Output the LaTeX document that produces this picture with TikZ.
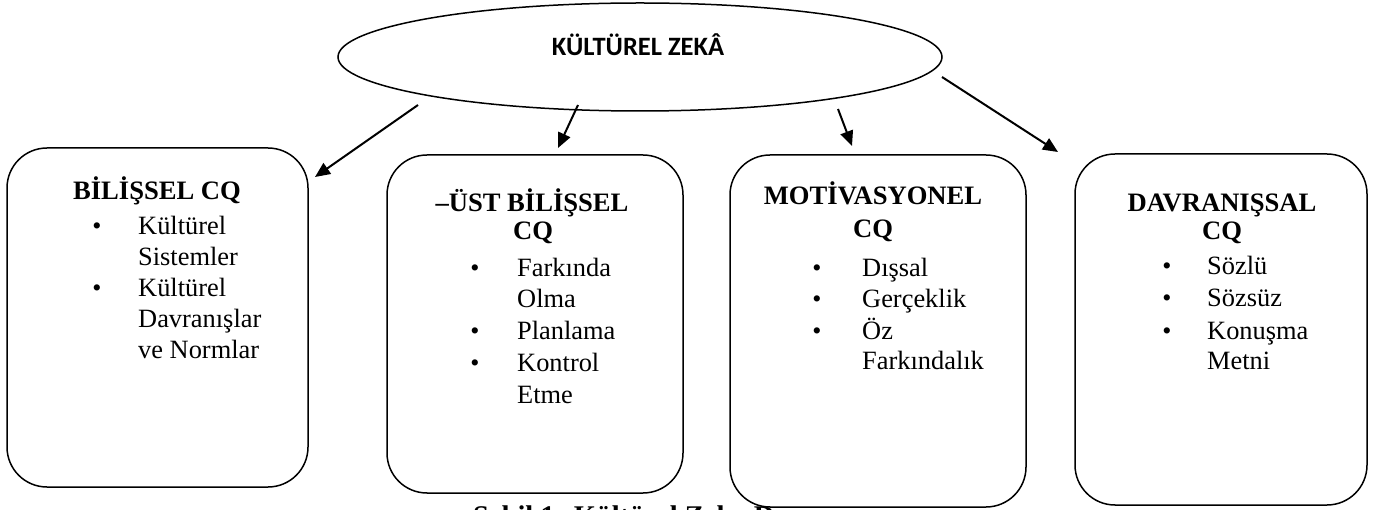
\documentclass[tikz,border=0pt]{standalone}
\usepackage{fontspec}
\setmainfont{Liberation Serif}
\newfontfamily\calib{Carlito}
\usetikzlibrary{shapes.geometric,arrows.meta}
\tikzset{
  box/.style={draw=black, fill=white, line width=1.5pt, rounded corners=40pt, inner sep=0pt},
  ttl/.style={anchor=base, inner sep=0pt, font=\fontsize{26.6}{30}\selectfont\bfseries},
  itm/.style={anchor=base west, inner sep=0pt, font=\fontsize{26.4}{30}\selectfont},
  bul/.style={anchor=base, inner sep=0pt, font=\fontsize{26}{30}\selectfont},
  arr/.style={line width=2pt, -{Triangle[length=15pt,width=13pt]}},
}
\begin{document}
\begin{tikzpicture}[x=1pt,y=-1pt]
\useasboundingbox (0,0) rectangle (1376,510);
% top ellipse
\node[draw, ellipse, line width=1.5pt, minimum width=604pt, minimum height=108pt, inner sep=0pt] (zeka) at (640,57) {};
\node[anchor=base, inner sep=0pt, font=\calib\fontsize{26.5}{30}\selectfont\bfseries] (zekat) at (638,56) {KÜLTÜREL ZEKÂ};
% caption (partly hidden behind boxes and the page edge)
\node[anchor=base west, inner sep=0pt, font=\fontsize{28.5}{32}\selectfont\bfseries] (cap) at (473,525) {Şekil 1: Kültürel Zeka D};
% boxes
\node[box, minimum width=301pt, minimum height=339pt] (b1) at (157.5,317.5) {};
\node[box, minimum width=296pt, minimum height=338pt] (b2) at (535,324) {};
\node[box, minimum width=296pt, minimum height=352pt] (b3) at (878,331) {};
\node[box, minimum width=292pt, minimum height=351pt] (b4) at (1221,329.5) {};
% box 1
\node[ttl] (t1) at (157,200) {BİLİŞSEL CQ};
\node[bul] (p11) at (97,235) {•};
\node[itm] (i11) at (138,235) {Kültürel};
\node[itm] (i12) at (138,266) {Sistemler};
\node[bul] (p12) at (97,297) {•};
\node[itm] (i13) at (138,297) {Kültürel};
\node[itm] (i14) at (138,328) {Davranışlar};
\node[itm] (i15) at (138,359) {ve Normlar};
% box 2
\node[ttl] (t2a) at (532,212) {–ÜST BİLİŞSEL};
\node[ttl] (t2b) at (533,240) {CQ};
\node[bul] (p21) at (475,277) {•};
\node[itm] (i21) at (517,277) {Farkında};
\node[itm] (i22) at (517,308) {Olma};
\node[bul] (p22) at (475,340) {•};
\node[itm] (i23) at (517,340) {Planlama};
\node[bul] (p23) at (475,372) {•};
\node[itm] (i24) at (517,372) {Kontrol};
\node[itm] (i25) at (517,403) {Etme};
% box 3
\node[ttl] (t3a) at (873,205) {MOTİVASYONEL};
\node[ttl] (t3b) at (873,238) {CQ};
\node[bul] (p31) at (817,277) {•};
\node[itm] (i31) at (862,277) {Dışsal};
\node[bul] (p32) at (817,308) {•};
\node[itm] (i32) at (862,308) {Gerçeklik};
\node[bul] (p33) at (817,340) {•};
\node[itm] (i33) at (862,340) {Öz};
\node[itm] (i34) at (862,370) {Farkındalık};
% box 4
\node[ttl] (t4a) at (1222,212) {DAVRANIŞSAL};
\node[ttl] (t4b) at (1222,240) {CQ};
\node[bul] (p41) at (1167,275) {•};
\node[itm] (i41) at (1207,275) {Sözlü};
\node[bul] (p42) at (1167,307) {•};
\node[itm] (i42) at (1207,307) {Sözsüz};
\node[bul] (p43) at (1167,340) {•};
\node[itm] (i43) at (1207,340) {Konuşma};
\node[itm] (i44) at (1207,370) {Metni};
% arrows
\coordinate (s1) at (418,105); \coordinate (e1) at (315,177);
\coordinate (s2) at (578,105); \coordinate (e2) at (558,148);
\coordinate (s3) at (838,109); \coordinate (e3) at (852,146);
\coordinate (s4) at (942,77);  \coordinate (e4) at (1058,152);
\draw[arr] (s1) -- (e1);
\draw[arr] (s2) -- (e2);
\draw[arr] (s3) -- (e3);
\draw[arr] (s4) -- (e4);
\end{tikzpicture}
\end{document}
